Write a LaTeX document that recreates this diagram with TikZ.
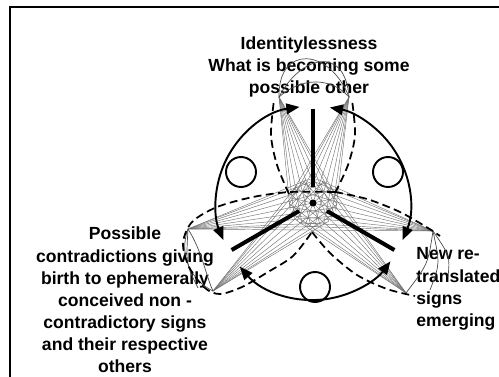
\documentclass[tikz,border=0pt]{standalone}
\usepackage{fontspec}
\setmainfont{Liberation Sans}
\usetikzlibrary{positioning, arrows.meta}

\begin{document}
\begin{tikzpicture}[x=0.02cm, y=0.02cm,
  ring/.style={line width=1.1pt, {Triangle[length=7.5pt,width=6pt]}-{Triangle[length=7.5pt,width=6pt]}},
  spoke/.style={line width=2.3pt},
  hole/.style={draw, circle, line width=1.1pt, minimum size=0.6cm, inner sep=0pt},
  petal/.style={line width=1pt, dash pattern=on 4.5pt off 2.5pt},
  fanline/.style={line width=0.25pt, black!55},
  curl/.style={line width=0.4pt, black!70},
  txt/.style={font=\fontsize{10}{12.6}\selectfont\bfseries, align=center, inner sep=0pt}]
\useasboundingbox (0,0) rectangle (499,376);
\draw[line width=0.8pt] (10,-5) -- (10,369) -- (510,369);

% texts
\node[txt] (top) at (309,309) {Identitylessness\\What is becoming some\\possible other};
\node[txt] (left) at (125,76) {Possible\\contradictions giving\\birth to ephemerally\\conceived non -\\contradictory signs\\and their respective\\others};
\node[txt, align=left, anchor=west] (right) at (416,87) {New re-\\translated\\signs\\emerging};

% centre and tips
\coordinate (c) at (313,173);
\coordinate (T1) at (279,279);
\coordinate (T2) at (349,279);
\coordinate (L1) at (188,147);
\coordinate (L2) at (213,85);
\coordinate (R1) at (433,145);
\coordinate (R2) at (406,83);

% fans
\foreach \t/\s in {T1/-162, T2/-199, L1/-78, L2/-49, R1/77, R2/46}
  \foreach \k in {0,...,8}
    \draw[fanline] (\t) -- ([shift={(\s+22.5*\k:24)}]c);
\draw[fanline] (L1) -- (R1);

% curls at the tips
\draw[curl] (T1) .. controls (278,332) and (330,328) .. (T2);
\draw[curl] (T1) .. controls (300,320) and (345,332) .. (T2);
\draw[curl] (T1) .. controls (300,298) and (330,300) .. (T2);
\draw[curl] (L1) .. controls (178,120) and (192,95) .. (L2);
\draw[curl] (L1) .. controls (202,125) and (206,100) .. (L2);
\draw[curl] (L1) .. controls (186,112) .. (198,88);
\draw[curl] (R1) .. controls (450,120) .. (448,99);
\draw[curl] (R1) .. controls (440,112) .. (430,86);
\draw[curl] (R1) .. controls (428,112) .. (R2);

% dashed petals
\draw[petal] plot[smooth] coordinates {(289,182) (277,211) (271,241) (274,276)};
\draw[petal] plot[smooth] coordinates {(335,183) (348,211) (355,241) (352,276)};
\draw[petal] plot[smooth] coordinates {(335,184) (290,184) (253,179) (217,169) (192,154) (183,133) (189,109) (205,88) (220,82) (242,89) (268,104) (293,120) (312,144)};
\draw[petal] plot[smooth] coordinates {(335,184) (367,177) (400,164) (428,148) (440,140)};
\draw[petal] plot[smooth] coordinates {(312,144) (330,123) (357,101) (387,87) (415,80)};

% outer ring
\draw[ring] ([shift={(98:97)}]c) arc[start angle=98, end angle=202.5, radius=1.94cm];
\draw[ring] ([shift={(221:97)}]c) arc[start angle=221, end angle=323, radius=1.94cm];
\draw[ring] ([shift={(337.5:97)}]c) arc[start angle=337.5, end angle=440, radius=1.94cm];

\node[hole] (holeL) at (241,204) {};
\node[hole] (holeR) at (388,204) {};
\node[hole] (holeB) at (315,89) {};

% spokes
\foreach \a in {90,210,330}
  \draw[spoke] ([shift={(\a:16)}]c) -- ([shift={(\a:94)}]c);
\fill (c) circle[radius=0.07cm];
\end{tikzpicture}
\end{document}
